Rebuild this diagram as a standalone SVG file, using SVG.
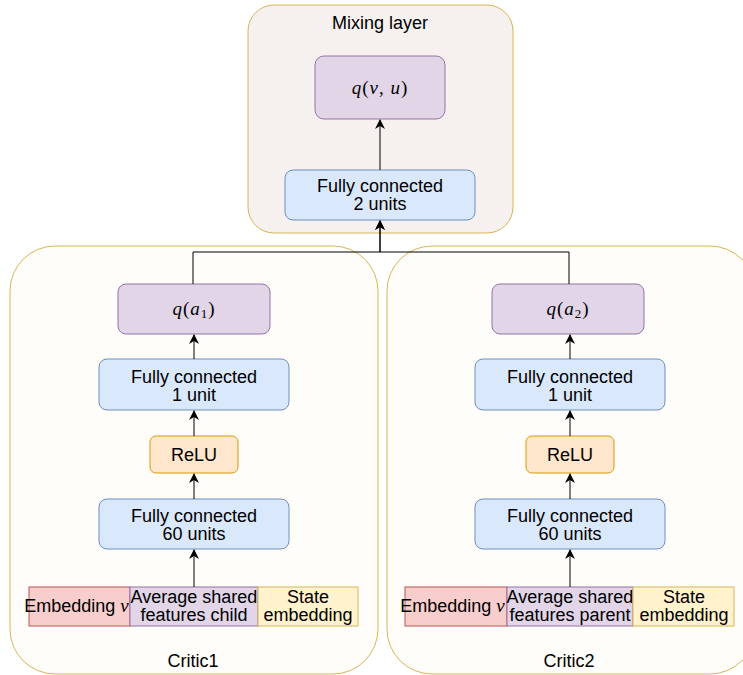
<svg xmlns="http://www.w3.org/2000/svg" width="743" height="675" viewBox="0 0 743 675">
<style>
.t{font-family:"Liberation Sans",Arial,sans-serif;font-size:18px;fill:#000;text-anchor:middle}
.m{font-family:"Liberation Serif","DejaVu Serif",serif;font-style:italic;font-size:19px;fill:#000;text-anchor:middle;letter-spacing:1px}
.u{font-style:normal}
.fc{fill:#dae8fc;stroke:#6c8ebf;stroke-width:1}
.q{fill:#e1d5e7;stroke:#9673a6;stroke-width:1}
.relu{fill:#ffe6cc;stroke:#d79b00;stroke-width:1}
.emb{fill:#f8cecc;stroke:#b85450;stroke-width:1}
.avg{fill:#e1d5e7;stroke:#9673a6;stroke-width:1}
.st{fill:#fff2cc;stroke:#d6b656;stroke-width:1}
.cont{fill:#fffdf9;stroke:#d6b656;stroke-width:1}
.mix{fill:#f6f1ef;stroke:#d6b656;stroke-width:1}
.c{fill:none;stroke:#000;stroke-width:1}
</style>
<defs>
<marker id="a" viewBox="0 0 10 10" refX="9" refY="5" markerWidth="10" markerHeight="10" markerUnits="userSpaceOnUse" orient="auto">
<path d="M0,0 L10,5 L0,10 L3,5 Z" fill="#000"/>
</marker>
</defs>
<g id="mixing-layer">
<rect class="mix" x="248" y="5" width="265" height="228" rx="26"/>
<text class="t" x="380" y="29">Mixing layer</text>
</g>
<g id="critic1">
<rect class="cont" x="10" y="246" width="368" height="428" rx="45"/>
<text class="t" x="193" y="667">Critic1</text>
</g>
<g id="critic2">
<rect class="cont" x="387" y="246" width="368" height="428" rx="45"/>
<text class="t" x="569" y="667">Critic2</text>
</g>
<g id="qvu">
<rect class="q" x="315" y="56" width="130" height="63" rx="9"/>
<text class="m" x="380" y="94">q<tspan class="u">(</tspan>v<tspan class="u">, </tspan>u<tspan class="u">)</tspan></text>
</g>
<g id="fc2">
<rect class="fc" x="285" y="170" width="190" height="50" rx="8"/>
<text class="t" x="380" y="192">Fully connected</text>
<text class="t" x="380" y="210">2 units</text>
</g>
<g id="qa1">
<rect class="q" x="118" y="284" width="152" height="50" rx="8"/>
<text class="m" x="194" y="315">q<tspan class="u">(</tspan>a<tspan class="u" font-size="13" dy="3">1</tspan><tspan class="u" dy="-3">)</tspan></text>
</g>
<g id="fc1-1">
<rect class="fc" x="99" y="359" width="190" height="51" rx="8"/>
<text class="t" x="194" y="383">Fully connected</text>
<text class="t" x="194" y="401">1 unit</text>
</g>
<g id="relu1">
<rect class="relu" x="150" y="436" width="88" height="37" rx="6"/>
<text class="t" x="194" y="461">ReLU</text>
</g>
<g id="fc60-1">
<rect class="fc" x="99" y="499" width="190" height="50" rx="8"/>
<text class="t" x="194" y="522">Fully connected</text>
<text class="t" x="194" y="540">60 units</text>
</g>
<g id="emb1">
<rect class="emb" x="29" y="587" width="101" height="39"/>
<text class="t" x="77" y="612">Embedding <tspan class="m">v</tspan></text>
</g>
<g id="avg1">
<rect class="avg" x="130" y="587" width="128" height="39"/>
<text class="t" x="194" y="603">Average shared</text>
<text class="t" x="194" y="621">features child</text>
</g>
<g id="state1">
<rect class="st" x="258" y="587" width="100" height="39"/>
<text class="t" x="308" y="603">State</text>
<text class="t" x="308" y="621">embedding</text>
</g>
<g id="qa2">
<rect class="q" x="492" y="284" width="152" height="50" rx="8"/>
<text class="m" x="568" y="315">q<tspan class="u">(</tspan>a<tspan class="u" font-size="13" dy="3">2</tspan><tspan class="u" dy="-3">)</tspan></text>
</g>
<g id="fc1-2">
<rect class="fc" x="475" y="359" width="190" height="51" rx="8"/>
<text class="t" x="570" y="383">Fully connected</text>
<text class="t" x="570" y="401">1 unit</text>
</g>
<g id="relu2">
<rect class="relu" x="526" y="436" width="88" height="37" rx="6"/>
<text class="t" x="570" y="461">ReLU</text>
</g>
<g id="fc60-2">
<rect class="fc" x="475" y="499" width="190" height="50" rx="8"/>
<text class="t" x="570" y="522">Fully connected</text>
<text class="t" x="570" y="540">60 units</text>
</g>
<g id="emb2">
<rect class="emb" x="405" y="587" width="102" height="39"/>
<text class="t" x="453" y="612">Embedding <tspan class="m">v</tspan></text>
</g>
<g id="avg2">
<rect class="avg" x="507" y="587" width="126" height="39"/>
<text class="t" x="570" y="603">Average shared</text>
<text class="t" x="570" y="621">features parent</text>
</g>
<g id="state2">
<rect class="st" x="633" y="587" width="101" height="39"/>
<text class="t" x="684" y="603">State</text>
<text class="t" x="684" y="621">embedding</text>
</g>
<g id="connectors">
<path class="c" d="M380,170 L380,120" marker-end="url(#a)"/>
<path class="c" d="M193,284 L193,252 L380,252 L380,221" marker-end="url(#a)"/>
<path class="c" d="M569,284 L569,252 L380,252 L380,221" marker-end="url(#a)"/>
<path class="c" d="M194,359 L194,335" marker-end="url(#a)"/>
<path class="c" d="M194,436 L194,411" marker-end="url(#a)"/>
<path class="c" d="M194,499 L194,474" marker-end="url(#a)"/>
<path class="c" d="M194,587 L194,550" marker-end="url(#a)"/>
<path class="c" d="M570,359 L570,335" marker-end="url(#a)"/>
<path class="c" d="M570,436 L570,411" marker-end="url(#a)"/>
<path class="c" d="M570,499 L570,474" marker-end="url(#a)"/>
<path class="c" d="M570,587 L570,550" marker-end="url(#a)"/>
</g>
</svg>
